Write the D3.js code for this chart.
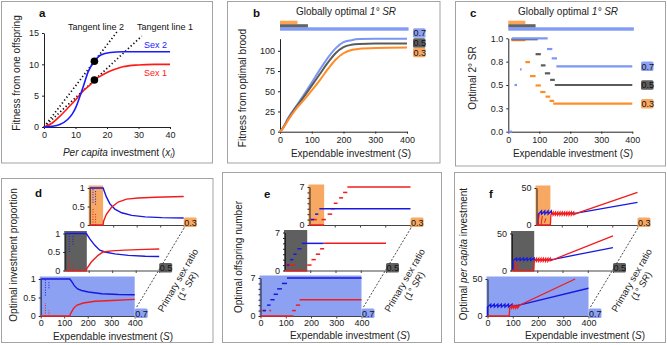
<!DOCTYPE html>
<html>
<head>
<meta charset="utf-8">
<script src="https://cdn.jsdelivr.net/npm/d3@7"></script>
<style>
  body { margin: 0; background: #fff; }
  svg { display: block; font-family: "Liberation Sans", Arial, sans-serif; }
</style>
</head>
<body>
<svg id="fig" width="667" height="345"></svg>
<script>
// ---------- data ----------

// panel a: fitness from one offspring vs per capita investment
var sex1 = [[0,0],[2.5,0.6],[5,1.7],[7.5,3],[10,4.3],[11,4.9],[12.5,5.8],[15,6.9],[16,7.5],[17.5,8],[20,8.7],[22.5,9.2],[25,9.6],[30,9.9],[35,10],[40,10]];
var sex2 = [[0,0],[2.5,0.1],[5,0.4],[7.5,1.2],[9,2.1],[10,3],[11,4.3],[12.5,6.5],[14,8.8],[16,10.5],[18,11.5],[21,11.9],[25,12],[40,12]];
var optimum = [[16,7.5],[16,10.5]];
var tangent1 = [[0,0],[31,14.5]];
var tangent2 = [[0,0],[23.5,15.4]];
var aTicksX = [0,10,20,30,40];
var aTicksY = [0,5,10,15];

// primary sex ratios, index 0 = 0.7 (front), 1 = 0.5, 2 = 0.3 (back)
var srNames = ["0.7","0.5","0.3"];
var globalEnd = [405, 88, 55];          // S up to which each 1° SR is globally optimal

// panel b: fitness from optimal brood
var bS = [0,10,25,50,75,100,125,150,175,200,225,250,300,400];
var fit07 = [0,5,16.5,31,45.5,60.7,76.4,91,103,110.7,113.2,114.5,115,115];
var fit05 = [0,5,15,30,43,57,71,85,97,104.5,107.5,108.5,109,109];
var fit03 = [0,4.5,14,28,39,51,63.5,77,89,97,101,102.5,103.5,104];
var bTicksY = [0,25,50,75,100];
var sTicks = [0,100,200,300,400];

// panel c: optimal 2° SR segments [S from, S to, value]
var sec07 = [[0,12,0],[20,28,0.5],[38,43,0.667],[12,127,1],[125,142,0.885],[140,157,0.785],[155,400,0.7]];
var sec05 = [[10,95,0.99],[88,105,0.83],[105,120,0.71],[118,135,0.625],[135,150,0.555],[150,400,0.5]];
var sec03 = [[10,55,0.98],[55,70,0.745],[70,88,0.595],[88,105,0.495],[103,120,0.425],[120,135,0.375],[133,148,0.33],[145,400,0.3]];
var cTicksY = [0,0.25,0.5,0.75,1];

// panel d: optimal investment proportion [S, proportion]
var dBlue = [
  [[0,1],[124,1],[131,0.94],[143,0.82],[157,0.73],[174,0.69],[203,0.65],[260,0.6],[331,0.58],[400,0.575]],
  [[0,1],[90,1],[104,0.86],[126,0.68],[147,0.55],[169,0.5],[211,0.45],[269,0.41],[340,0.385],[400,0.38]],
  [[0,1],[57,1],[71,0.76],[86,0.57],[107,0.43],[136,0.33],[179,0.26],[236,0.22],[307,0.2],[400,0.19]]
];
var dRed = [
  [[0,0],[124,0],[126,0.05],[139,0.2],[153,0.29],[181,0.35],[231,0.4],[303,0.42],[400,0.45]],
  [[0,0],[90,0],[92,0.05],[111,0.23],[140,0.41],[161,0.5],[197,0.53],[254,0.55],[340,0.57],[400,0.58]],
  [[0,0],[57,0],[59,0.1],[71,0.29],[93,0.48],[121,0.62],[157,0.7],[207,0.73],[279,0.75],[400,0.77]]
];
// scattered optima at small S: [S, from, to]
var dBlueDots = [[[20,0.55,1],[35,0.75,0.92]], [[17,0.5,1],[33,0.7,0.95]], [[14,0.6,1],[25,0.55,0.95]]];
var dRedDots = [[[20,0,0.35],[35,0,0.15]], [[17,0,0.4],[33,0,0.2]], [[14,0,0.45],[25,0,0.3]]];

// panel e: optimal offspring number segments [S from, S to, number]
var eBlue = [
  [[10,22,1],[26,40,2],[39,56,3],[52,69,4],[66,85,5],[85,105,6],[105,400,7]],
  [[7,17,1],[20,33,2],[33,46,3],[49,66,4],[66,153,5]],
  [[5,18,1],[22,35,2],[39,400,3]]
];
var eRed = [
  [[0,130,0],[5,20,1],[35,42,1],[125,140,1],[140,157,2],[155,400,3]],
  [[0,88,0],[3,40,1],[88,105,1],[105,122,2],[122,139,3],[139,155,4],[153,400,5]],
  [[0,58,0],[3,29,1],[48,65,1],[72,90,2],[85,100,3],[96,111,4],[117,133,5],[133,150,6],[150,400,7]]
];

// panel f: optimal per capita investment [S, investment]
var fBlue = [
  [[0,0],[0,12],[13,16],[13,12],[27,16],[27,12],[41,16],[41,12],[55,16],[55,12],[69,16],[69,12],[83,16],[83,12],[97,16],[97,12.5],[129,15],[400,37.5]],
  [[4,0],[4,13.5],[18,17],[18,13.5],[32,17],[32,13.5],[46,17],[46,13.5],[60,17],[60,13.5],[74,17],[74,13.5],[88,17],[88,14],[169,15.5],[400,31]],
  [[7,0],[7,14.5],[20,19],[20,14.5],[33,19],[33,14.5],[46,19],[46,14.5],[59,19],[59,15],[164,16.5],[400,30.5]]
];
var fRed = [
  [[0,0],[86,0],[88,10.5],[96,14],[96,10.5],[104,14],[104,10.5],[112,14],[112,10.5],[120,14],[120,11],[129,15],[347,50]],
  [[0,0],[86,0],[88,12.5],[97,16.5],[97,12.5],[106,16.5],[106,12.5],[115,16.5],[115,12.5],[124,16.5],[124,12.5],[133,16.5],[133,12.5],[142,16.5],[142,12.5],[151,16.5],[151,13],[169,15.5],[400,46.8]],
  [[0,0],[55,0],[57,13.5],[66,17.5],[66,13.5],[75,17.5],[75,13.5],[84,17.5],[84,13.5],[93,17.5],[93,13.5],[102,17.5],[102,13.5],[111,17.5],[111,13.5],[120,17.5],[120,13.5],[129,17.5],[129,13.5],[138,17.5],[138,13.5],[147,17.5],[147,14],[164,16.5],[400,44]]
];
var fRedDots = [[], [[8,0,13],[20,0,10]], [[6,0,15],[18,0,12],[32,3,9]]];

// ---------- drawing ----------
var FONT = "Liberation Sans, Arial, sans-serif";
var lineCol = ["#7b96f3","#5b5b5b","#ff8c26"];
var bgCol = ["#8ca1f2","#5f5f5f","#f7a862"];
var RED = "#f01c1c", BLUE = "#1818e0";
var svg = d3.select("#fig");

function styleAxis(g) {
  g.attr("font-family", FONT).attr("font-size", 9);
  g.selectAll("path.domain").attr("stroke", "#222");
  g.selectAll(".tick line").attr("stroke", "#222");
  g.selectAll("text").attr("fill", "#222");
}

// text made of [string, italic] parts
function richText(g, parts, x, y, opts) {
  var t = g.append("text").attr("x", x).attr("y", y)
    .attr("font-size", opts.size || 10).attr("fill", opts.fill || "#222")
    .attr("text-anchor", opts.anchor || "middle");
  if (opts.rotate) t.attr("transform", "rotate(" + opts.rotate + "," + x + "," + y + ")");
  parts.forEach(function(p) {
    var s = t.append("tspan").text(p[0]);
    if (p[1]) s.attr("font-style", "italic");
  });
  return t;
}

function letter(txt, x, y) {
  svg.append("text").attr("x", x).attr("y", y).text(txt)
    .attr("font-size", 11.5).attr("font-weight", "bold").attr("fill", "#111");
}

// panel frames
[[1.5,1.5,211,161.5],[227.5,1.5,212.5,161.5],[455.5,1.5,210,164.5],
 [1.5,178.5,211.5,164],[222.5,172.5,219,170],[454.5,172.5,211,170]].forEach(function(r) {
  svg.append("rect").attr("x", r[0]).attr("y", r[1]).attr("width", r[2]).attr("height", r[3])
    .attr("fill", "none").attr("stroke", "#a3a3a3").attr("stroke-width", 1);
});

// ----- panel a -----
var aX = d3.scaleLinear().domain([0,40]).range([44,170]);
var aY = d3.scaleLinear().domain([0,15]).range([127,33]);
var ga = svg.append("g");
ga.append("g").attr("transform", "translate(0,127)")
  .call(d3.axisBottom(aX).tickValues(aTicksX).tickSize(2).tickSizeOuter(0).tickPadding(3)).call(styleAxis);
ga.append("g").attr("transform", "translate(44,0)")
  .call(d3.axisLeft(aY).tickValues(aTicksY).tickSize(2).tickSizeOuter(0).tickPadding(3)).call(styleAxis);

var aLine = d3.line().x(function(d) { return aX(d[0]); }).y(function(d) { return aY(d[1]); });
var aCurve = d3.line().x(function(d) { return aX(d[0]); }).y(function(d) { return aY(d[1]); }).curve(d3.curveMonotoneX);
[tangent1, tangent2].forEach(function(t) {
  ga.append("path").attr("d", aLine(t)).attr("fill", "none").attr("stroke", "#111")
    .attr("stroke-width", 1.7).attr("stroke-dasharray", "1.3,2.4");
});
ga.append("path").attr("d", aCurve(sex1)).attr("fill", "none").attr("stroke", "#ff1a1a").attr("stroke-width", 1.6);
ga.append("path").attr("d", aCurve(sex2)).attr("fill", "none").attr("stroke", "#1a1aff").attr("stroke-width", 1.6);
ga.selectAll("circle").data(optimum).enter().append("circle")
  .attr("cx", function(d) { return aX(d[0]); }).attr("cy", function(d) { return aY(d[1]); })
  .attr("r", 3.8).attr("fill", "#000");

richText(ga, [["Tangent line 2"]], 96, 30, {size: 9, fill: "#111"});
richText(ga, [["Tangent line 1"]], 137, 30, {size: 9, fill: "#111", anchor: "start"});
richText(ga, [["Sex 2"]], 144, 48, {size: 9, fill: "#1a1aff", anchor: "start"});
richText(ga, [["Sex 1"]], 144, 76, {size: 9, fill: "#ff1a1a", anchor: "start"});
var ax = richText(ga, [["Per capita", true], [" investment ("], ["x", true]], 119, 156, {size: 10});
ax.append("tspan").text("i").attr("font-style", "italic").attr("font-size", 7).attr("dy", 2);
ax.append("tspan").text(")").attr("dy", -2);
richText(ga, [["Fitness from one offspring"]], 20, 73, {size: 10, rotate: -90});
letter("a", 39, 17);

// ----- panel b and c, shared top bars -----
function globalBars(g, x) {
  var top = [27.3, 24.2, 20.7];
  for (var i = 2; i >= 0; i--) {
    g.append("rect").attr("x", x(0)).attr("y", top[i]).attr("width", x(globalEnd[i]) - x(0))
      .attr("height", 3.4).attr("fill", lineCol[i]).attr("opacity", i == 2 ? 0.8 : 0.95);
  }
}
function labelBox(g, x, yc, i, w) {
  g.append("rect").attr("x", x).attr("y", yc - 4.8).attr("width", w || 12.5).attr("height", 9.5)
    .attr("rx", 1.5).attr("fill", bgCol[i]);
  g.append("text").attr("x", x + 0.6).attr("y", yc + 3.4).text(srNames[i])
    .attr("font-size", 9).attr("fill", "#111");
}

// panel b
var bX = d3.scaleLinear().domain([0,400]).range([280,407]);
var bY = d3.scaleLinear().domain([0,115]).range([131.7,38.7]);
var gb = svg.append("g");
gb.append("g").attr("transform", "translate(0,131.7)")
  .call(d3.axisBottom(bX).tickValues(sTicks).tickSize(2).tickSizeOuter(0).tickPadding(3)).call(styleAxis);
gb.append("g").attr("transform", "translate(280,0)")
  .call(d3.axisLeft(bY).tickValues(bTicksY).tickSize(2).tickSizeOuter(0).tickPadding(3)).call(styleAxis);
var bLine = d3.line().x(function(d, k) { return bX(bS[k]); }).y(function(d) { return bY(d); }).curve(d3.curveMonotoneX);
[fit07, fit05, fit03].forEach(function(f, i) {
  gb.append("path").attr("d", bLine(f)).attr("fill", "none").attr("stroke", lineCol[i]).attr("stroke-width", 2);
});
globalBars(gb, bX);
labelBox(gb, 413, 33, 0); labelBox(gb, 413, 43, 1); labelBox(gb, 413, 52.5, 2);
richText(gb, [["Globally optimal "], ["1° SR", true]], 346, 14.5, {size: 10});
richText(gb, [["Expendable investment ("], ["S", true], [")"]], 351, 157, {size: 10});
richText(gb, [["Fitness from optimal brood"]], 246, 88, {size: 10, rotate: -90});
letter("b", 253, 17);

// panel c
var cX = d3.scaleLinear().domain([0,400]).range([508.3,632.3]);
var cY = d3.scaleLinear().domain([0,1]).range([131.7,38.3]);
var gc = svg.append("g");
gc.append("g").attr("transform", "translate(0,131.7)")
  .call(d3.axisBottom(cX).tickValues(sTicks).tickSize(2).tickSizeOuter(0).tickPadding(3)).call(styleAxis);
gc.append("g").attr("transform", "translate(508.3,0)")
  .call(d3.axisLeft(cY).tickValues(cTicksY).tickSize(2).tickSizeOuter(0).tickPadding(3)).call(styleAxis);
[sec03, sec05, sec07].forEach(function(segs, k) {
  var i = 2 - k;
  gc.selectAll(null).data(segs).enter().append("line")
    .attr("x1", function(d) { return cX(d[0]); }).attr("x2", function(d) { return cX(d[1]); })
    .attr("y1", function(d) { return cY(d[2]); }).attr("y2", function(d) { return cY(d[2]); })
    .attr("stroke", lineCol[i]).attr("stroke-width", 2.2);
});
globalBars(gc, cX);
labelBox(gc, 641, cY(0.7), 0); labelBox(gc, 641, cY(0.5), 1); labelBox(gc, 641, cY(0.3), 2);
richText(gc, [["Globally optimal "], ["1° SR", true]], 568, 14.5, {size: 10});
richText(gc, [["Expendable investment ("], ["S", true], [")"]], 573, 157, {size: 10});
richText(gc, [["Optimal 2° SR"]], 476, 78, {size: 10, rotate: -90});
letter("c", 470, 17);

// ----- panels d-f: stacked sub-plots, one per primary sex ratio -----
function drawStack(x0, w, hgt, ymax, yTicks, yLabelled, bgEnd, content) {
  var ends = [];
  for (var i = 2; i >= 0; i--) {
    var xs = x0 + 24.5 * i, base = 316 - 45.5 * i;
    var x = d3.scaleLinear().domain([0,400]).range([xs, xs + w]);
    var y = d3.scaleLinear().domain([0, ymax]).range([base, base - hgt]);
    var g = svg.append("g");
    g.append("rect").attr("x", xs - 1).attr("y", base - hgt - 2.5)
      .attr("width", x(bgEnd[i]) - xs + 1).attr("height", hgt + 3.5).attr("fill", bgCol[i]);
    g.append("g").attr("transform", "translate(0," + base + ")")
      .call(d3.axisBottom(x).tickValues(i == 0 ? sTicks : [100,200,300,400]).tickSize(2.5).tickSizeOuter(0)
        .tickPadding(1.5).tickFormat(i == 0 ? d3.format("d") : function() { return ""; }))
      .call(styleAxis).selectAll("path.domain,.tick line").attr("stroke", "#444");
    g.append("g").attr("transform", "translate(" + xs + ",0)")
      .call(d3.axisLeft(y).tickValues(yTicks).tickSize(2).tickSizeOuter(0).tickPadding(3)
        .tickFormat(function(d) { return yLabelled.indexOf(d) >= 0 ? d : ""; }))
      .call(styleAxis);
    content(g, x, y, i);
    labelBox(g, xs + w, base - 2.8, i, 13);
    ends[i] = [xs + w, base];
  }
  // depth axis for the primary sex ratio
  var p0 = [ends[0][0] + 2, ends[0][1] - 9], p2 = [ends[2][0] + 1, ends[2][1] + 2];
  svg.append("line").attr("x1", p0[0]).attr("y1", p0[1]).attr("x2", p2[0]).attr("y2", p2[1])
    .attr("stroke", "#333").attr("stroke-width", 0.9).attr("stroke-dasharray", "2,1.6");
  var cx = (p0[0] + p2[0]) / 2 + 20, cy = (p0[1] + p2[1]) / 2 + 15;
  var t = svg.append("g").attr("transform", "translate(" + cx + "," + cy + ") rotate(-60)");
  t.append("text").attr("text-anchor", "middle").attr("font-size", 9.5).attr("fill", "#222").text("Primary sex ratio");
  var t2 = t.append("text").attr("text-anchor", "middle").attr("font-size", 9.5).attr("fill", "#222").attr("y", 11);
  t2.append("tspan").text("(1° ");
  t2.append("tspan").text("SR").attr("font-style", "italic");
  t2.append("tspan").text(")");
}

function pathOf(x, y) {
  return d3.line().x(function(d) { return x(d[0]); }).y(function(d) { return y(d[1]); });
}
function segs(g, x, y, data, col, sw) {
  g.selectAll(null).data(data).enter().append("line")
    .attr("x1", function(d) { return x(d[0]); }).attr("x2", function(d) { return x(d[1]); })
    .attr("y1", function(d) { return y(d[2]); }).attr("y2", function(d) { return y(d[2]); })
    .attr("stroke", col).attr("stroke-width", sw);
}

// panel d
drawStack(40.7, 94, 37, 1, [0,0.5,1], [0,0.5,1], [400,92,57], function(g, x, y, i) {
  var p = pathOf(x, y);
  [[dBlueDots[i], BLUE], [dRedDots[i], RED]].forEach(function(set) {
    g.selectAll(null).data(set[0]).enter().append("line")
      .attr("x1", function(d) { return x(d[0]); }).attr("x2", function(d) { return x(d[0]); })
      .attr("y1", function(d) { return y(d[1]); }).attr("y2", function(d) { return y(d[2]); })
      .attr("stroke", set[1]).attr("stroke-width", 1).attr("stroke-dasharray", "1,1.5");
  });
  g.append("path").attr("d", p(dBlue[i])).attr("fill", "none").attr("stroke", BLUE).attr("stroke-width", 1.4);
  g.append("path").attr("d", p(dRed[i])).attr("fill", "none").attr("stroke", RED).attr("stroke-width", 1.4);
});
richText(svg, [["Optimal investment proportion"]], 17, 255, {size: 10, rotate: -90});
richText(svg, [["Expendable investment ("], ["S", true], [")"]], 113, 339.5, {size: 10});
letter("d", 35, 197);

// panel e
drawStack(260.5, 101, 38, 7, [0,1,2,3,4,5,6,7], [0,7], [400,88,58], function(g, x, y, i) {
  segs(g, x, y, eRed[i], RED, 1.5);
  segs(g, x, y, eBlue[i], BLUE, 1.5);
});
richText(svg, [["Optimal offspring number"]], 242, 257, {size: 10, rotate: -90});
richText(svg, [["Expendable investment ("], ["S", true], [")"]], 350, 338.5, {size: 10});
letter("e", 264, 198);

// panel f
drawStack(487.5, 101, 37, 50, [0,50], [0,50], [400,88,55], function(g, x, y, i) {
  var p = pathOf(x, y);
  g.append("path").attr("d", p(fBlue[i])).attr("fill", "none").attr("stroke", BLUE).attr("stroke-width", 1.3);
  g.selectAll(null).data(fRedDots[i]).enter().append("line")
    .attr("x1", function(d) { return x(d[0]); }).attr("x2", function(d) { return x(d[0] + 5); })
    .attr("y1", function(d) { return y(d[1]); }).attr("y2", function(d) { return y(d[2]); })
    .attr("stroke", RED).attr("stroke-width", 1);
  g.append("path").attr("d", p(fRed[i])).attr("fill", "none").attr("stroke", RED).attr("stroke-width", 1.3);
});
richText(svg, [["Optimal "], ["per capita", true], [" investment"]], 467, 254, {size: 10, rotate: -90});
richText(svg, [["Expendable investment ("], ["S", true], [")"]], 585, 339, {size: 10});
letter("f", 489, 198);
</script>
</body>
</html>
